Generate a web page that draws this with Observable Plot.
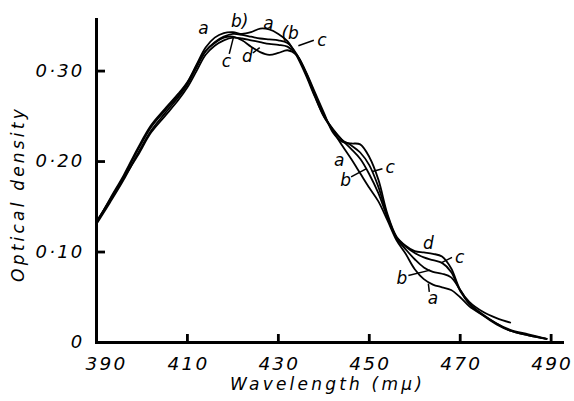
<!DOCTYPE html>
<html><head><meta charset="utf-8">
<script src="https://cdn.jsdelivr.net/npm/d3@7"></script>
<script src="https://cdn.jsdelivr.net/npm/@observablehq/plot@0.6"></script>
<style>
html,body{margin:0;padding:0;background:#fff;}
.spaced text{letter-spacing:3.2px;}
.ticklab text{letter-spacing:2.2px;}
</style></head><body>
<script>
// Wavelength grid (mμ)
const wavelength = [390,393,396,399,402,405,408,410,412,414,416,418,420,422,424,426,428,430,432,434,436,438,440,442,444,446,448,450,452,454,456,458,460,462,464,466,468,470,472,475,478,481,485,489];
const wavelengthD = [390,393,396,399,402,405,408,410,412,414,416,418,420,422,424,426,428,430,432,434,436,438,440,442,444,446,448,450,452,454,456,458,460,462,464,466,468,470,472,475,478,481];
// Optical density of the four curves
const odA = [.133,.158,.183,.212,.238,.256,.273,.287,.307,.326,.337,.342,.343,.341,.343,.347,.346,.341,.333,.317,.296,.272,.250,.234,.218,.203,.187,.171,.156,.135,.113,.098,.081,.070,.064,.061,.058,.050,.040,.030,.021,.013,.008,.004];
const odB = [.131,.155,.180,.208,.234,.253,.271,.285,.304,.322,.332,.338,.341,.340,.338,.336,.335,.334,.331,.319,.298,.273,.250,.236,.224,.214,.203,.186,.165,.138,.115,.103,.092,.083,.078,.076,.072,.058,.043,.031,.021,.014,.009,.004];
const odC = [.134,.157,.182,.206,.232,.250,.268,.282,.300,.318,.328,.334,.337,.336,.334,.332,.330,.329,.327,.318,.299,.275,.252,.235,.224,.218,.210,.196,.172,.140,.116,.106,.099,.094,.091,.088,.078,.057,.043,.030,.020,.013,.008,.004];
const odD = [.132,.159,.185,.214,.240,.258,.275,.288,.306,.322,.331,.337,.338,.334,.327,.321,.318,.320,.323,.318,.300,.277,.254,.232,.222,.220,.219,.205,.180,.142,.117,.107,.101,.0995,.098,.095,.082,.058,.045,.034,.027,.022];

const xTicks = [410,430,450,470,490];
const xTickLabels = [410,430,450,470,490];
const yTicks = [0.1,0.2,0.3];
const yTickLabels = [0,0.1,0.2,0.3];

const labelText = ["a","b)","a","(b","c","c","d","a","b","c","d","c","b","a"];
const labelX = [413.5,421.5,427.8,432.6,439.6,418.6,423.2,443.4,444.8,454.6,463.0,469.9,457.2,464.0];
const labelY = [.347,.355,.353,.341,.334,.311,.316,.201,.179,.193,.109,.094,.071,.049];

const leaderX1 = [437.8,419.2,424.4,446.0,452.9,468.2,458.6,463.2];
const leaderY1 = [.334,.319,.320,.183,.192,.094,.074,.056];
const leaderX2 = [434.4,420.1,425.9,449.3,450.7,465.8,463.4,463.0];
const leaderY2 = [.328,.337,.326,.192,.189,.088,.080,.065];

const rows = [
  ...wavelength.map((w,i)=>({w, od: odA[i], s:"a"})),
  ...wavelength.map((w,i)=>({w, od: odB[i], s:"b"})),
  ...wavelength.map((w,i)=>({w, od: odC[i], s:"c"})),
  ...wavelengthD.map((w,i)=>({w, od: odD[i], s:"d"}))
];
const labels = labelText.map((t,i)=>({t, x: labelX[i], y: labelY[i]}));
const leaders = leaderX1.map((x1,i)=>({x1, y1: leaderY1[i], x2: leaderX2[i], y2: leaderY2[i]}));
const xTickRows = xTicks.map(x => ({x}));
const yTickRows = yTicks.map(y => ({y}));

const W = 574, H = 401, ML = 96, MR = 12, MT = 19, MB = 59;
const xDomain = [390, 492.5], yDomain = [0, 0.357];
const axisLines = [
  {x1: xDomain[0], y1: yDomain[0], x2: xDomain[1], y2: yDomain[0]},
  {x1: xDomain[0], y1: yDomain[0], x2: xDomain[0], y2: yDomain[1]}
];
// tick lengths (8-9px) expressed in data units of each scale
const xTickLen = 8 * (yDomain[1] - yDomain[0]) / (H - MT - MB);
const yTickLen = 9 * (xDomain[1] - xDomain[0]) / (W - ML - MR);
const font = "'DejaVu Sans', sans-serif";
const chart = Plot.plot({
  width: W, height: H,
  marginLeft: ML, marginRight: MR, marginTop: MT, marginBottom: MB,
  x: {domain: xDomain},
  y: {domain: yDomain},
  style: {fontFamily: font, fontStyle: "italic", background: "#fff", color: "#000"},
  marks: [
    Plot.link(axisLines, {x1: "x1", y1: "y1", x2: "x2", y2: "y2", stroke: "#000", strokeWidth: 3, strokeLinecap: "square"}),
    Plot.ruleX(xTickRows, {x: "x", y1: () => 0, y2: () => xTickLen, stroke: "#000", strokeWidth: 2.8}),
    Plot.ruleY(yTickRows, {y: "y", x1: () => 390, x2: () => 390 + yTickLen, stroke: "#000", strokeWidth: 2.8}),
    Plot.axisX(xTickLabels, {tickSize: 0, tickPadding: 14, dx: 1, fontSize: 18.5, className: "ticklab", tickFormat: d => String(d)}),
    Plot.axisX([390], {tickSize: 0, tickPadding: 14, dx: 10, fontSize: 18.5, className: "ticklab", tickFormat: d => String(d)}),
    Plot.axisY(yTickLabels, {tickSize: 0, tickPadding: 12, fontSize: 18, className: "ticklab", tickFormat: d => d === 0 ? "0" : d.toFixed(2).replace(".", "·")}),
    Plot.line(rows, {x: "w", y: "od", z: "s", stroke: "#000", strokeWidth: 1.8, curve: "catmull-rom"}),
    Plot.link(leaders, {x1: "x1", y1: "y1", x2: "x2", y2: "y2", stroke: "#000", strokeWidth: 1.5}),
    Plot.text(labels, {x: "x", y: "y", text: "t", fontSize: 17, fill: "#000"}),
    Plot.text(["Wavelength (mμ)"], {frameAnchor: "bottom", lineAnchor: "middle", textAnchor: "middle", dy: 42, dx: -2, fontSize: 17, className: "spaced"}),
    Plot.text(["Optical density"], {frameAnchor: "left", lineAnchor: "middle", textAnchor: "middle", dx: -78, dy: 13, rotate: -90, fontSize: 17, className: "spaced"})
  ]
});
document.body.appendChild(chart);
</script>
</body></html>
